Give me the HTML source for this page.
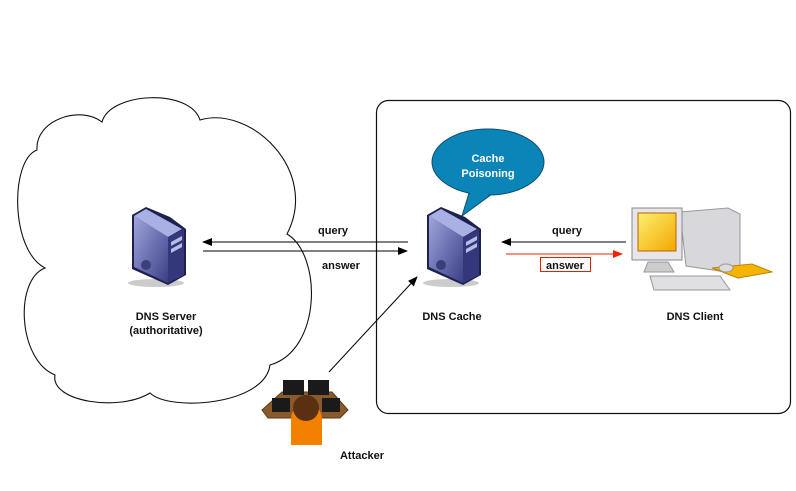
<!DOCTYPE html>
<html><head><meta charset="utf-8"><style>
body{margin:0;background:#fff}
text{font-family:"Liberation Sans",sans-serif;font-weight:bold;font-size:11px;fill:#111}
</style></head><body>
<svg width="796" height="486" viewBox="0 0 796 486" xmlns="http://www.w3.org/2000/svg">
<defs>
<linearGradient id="sv" x1="0" y1="0" x2="1" y2="1"><stop offset="0" stop-color="#9ea6dc"/><stop offset="1" stop-color="#3a3f85"/></linearGradient>
<linearGradient id="sc" x1="0" y1="0" x2="1" y2="1"><stop offset="0" stop-color="#ffee70"/><stop offset="1" stop-color="#f0a800"/></linearGradient>
<marker id="ab" markerWidth="10" markerHeight="8" refX="9" refY="4" orient="auto" markerUnits="userSpaceOnUse"><path d="M0,0 L10,4 L0,8 z" fill="#000"/></marker>
<marker id="ar" markerWidth="10" markerHeight="8" refX="9" refY="4" orient="auto" markerUnits="userSpaceOnUse"><path d="M0,0 L10,4 L0,8 z" fill="#f02000"/></marker>
<g id="srv">
<ellipse cx="30" cy="76" rx="28" ry="4" fill="#ccc"/>
<path d="M6,8 L20,0 L44,10 L60,22 L60,68 L42,78 L6,62 Z" fill="#1e2150"/>
<path d="M8,9 L20,2 L56,22 L42,30 Z" fill="#a9b0e4"/>
<path d="M8,9 L42,30 L42,76 L8,60 Z" fill="url(#sv)"/>
<path d="M42,30 L58,22 L58,68 L42,76 Z" fill="#34387a"/>
<path d="M45,35 L56,29 L56,33 L45,39 Z M45,42 L56,36 L56,40 L45,46Z" fill="#b8bde8"/>
<circle cx="20" cy="58" r="5" fill="#3a3f7a"/>
</g>
</defs>
<!-- cloud -->
<path d="M37,150 C35,120 80,105 102,122 C110,92 190,88 200,120 C250,105 320,170 287,234 C322,255 322,350 270,365 C265,405 170,412 150,393 C120,412 50,402 55,375 C18,360 14,280 45,268 C10,250 10,160 37,150 Z" fill="#fff" stroke="#111" stroke-width="1.1"/>
<!-- box -->
<rect x="376.5" y="100.5" width="414" height="313" rx="12" fill="#fff" stroke="#111" stroke-width="1.2"/>
<!-- bubble -->
<path d="M470,190 L462,216 L492,194 Z" fill="#0b84b8" stroke="#0a4f70"/>
<ellipse cx="488" cy="162" rx="56" ry="33" fill="#0b84b8" stroke="#0a4f70"/>
<path d="M471,191 L463,214 L491,193 Z" fill="#0b84b8"/>
<text x="488" y="162" text-anchor="middle" style="fill:#fff">Cache</text>
<text x="488" y="177" text-anchor="middle" style="fill:#fff">Poisoning</text>
<use href="#srv" x="126" y="207"/>
<use href="#srv" x="421" y="207"/>
<!-- computer -->
<g>
<path d="M680,212 L728,208 L740,214 L740,274 L686,266 Z" fill="#d8d8dc" stroke="#999"/>
<rect x="632" y="208" width="50" height="52" fill="#e6e6ea" stroke="#888"/>
<rect x="638" y="213" width="38" height="38" fill="url(#sc)" stroke="#c06000"/>
<path d="M648,262 L668,262 L674,272 L644,272 Z" fill="#ccc" stroke="#999"/>
<path d="M650,276 L720,276 L730,290 L654,290 Z" fill="#e0e0e4" stroke="#999"/>
<path d="M712,268 L752,264 L772,272 L738,278 Z" fill="#f4b400" stroke="#c08000"/>
<ellipse cx="726" cy="268" rx="7" ry="4" fill="#ddd" stroke="#999"/>
</g>
<!-- attacker -->
<g>
<path d="M262,410 L282,392 L332,392 L348,410 L340,418 L268,418 Z" fill="#8a5a2a" stroke="#5a3a1a"/>
<rect x="283" y="380" width="21" height="15" fill="#1a1a1a"/><rect x="308" y="380" width="21" height="15" fill="#1a1a1a"/>
<rect x="272" y="398" width="18" height="14" fill="#1a1a1a"/><rect x="322" y="398" width="18" height="14" fill="#1a1a1a"/>
<path d="M291,420 Q291,405 307,405 Q322,405 322,420 L322,445 L291,445 Z" fill="#f48000"/>
<circle cx="306" cy="408" r="13" fill="#5a3010"/>
</g>
<!-- arrows -->
<line x1="408" y1="242" x2="203" y2="242" stroke="#000" marker-end="url(#ab)"/>
<line x1="203" y1="251" x2="407" y2="251" stroke="#000" marker-end="url(#ab)"/>
<line x1="626" y1="242" x2="502" y2="242" stroke="#000" marker-end="url(#ab)"/>
<line x1="506" y1="254" x2="622" y2="254" stroke="#f02000" marker-end="url(#ar)"/>
<line x1="329" y1="372" x2="417" y2="277" stroke="#000" marker-end="url(#ab)"/>
<rect x="540.5" y="257.5" width="50" height="14" fill="#fff" stroke="#e02000"/>
<text x="333" y="234" text-anchor="middle">query</text>
<text x="341" y="269" text-anchor="middle">answer</text>
<text x="567" y="234" text-anchor="middle">query</text>
<text x="565" y="269" text-anchor="middle">answer</text>
<text x="166" y="320" text-anchor="middle">DNS Server</text>
<text x="166" y="334" text-anchor="middle">(authoritative)</text>
<text x="452" y="320" text-anchor="middle">DNS Cache</text>
<text x="695" y="320" text-anchor="middle">DNS Client</text>
<text x="362" y="459" text-anchor="middle">Attacker</text>
</svg>
</body></html>
